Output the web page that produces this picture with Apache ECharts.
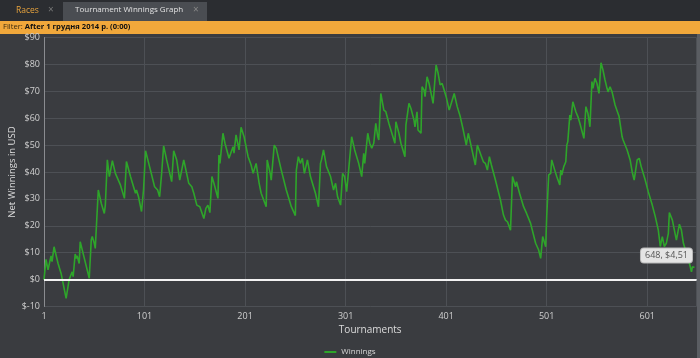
<!DOCTYPE html>
<html><head><meta charset="utf-8">
<script src="https://cdn.jsdelivr.net/npm/echarts@6/dist/echarts.min.js"></script>
<style>html,body{margin:0;padding:0;background:#3a3c40}#c{width:700px;height:358px}</style>
</head><body><div id="c"></div>
<script>
var tournaments = [1,3,5,8,9,11,15,18,23,26,29,30,32,33,34,36,37,46,48,49,51,52,55,58,61,62,64,66,67,69,72,77,78,81,83,87,92,93,95,98,100,102,106,111,114,116,118,120,123,128,130,133,136,140,145,148,150,153,156,160,162,164,166,168,170,174,175,176,179,181,185,189,190,192,195,197,200,204,207,209,212,215,217,222,223,226,227,230,232,237,242,247,251,252,254,256,258,260,263,266,271,274,276,277,279,282,286,289,291,293,296,298,300,302,304,307,310,314,317,319,320,323,325,327,329,331,333,334,336,339,341,344,347,350,351,354,356,360,361,364,366,369,370,372,373,376,377,379,380,382,384,386,388,391,393,395,397,401,404,407,409,412,415,418,421,423,426,430,432,435,438,440,442,444,446,450,455,458,460,462,465,467,470,471,474,478,481,485,490,491,493,495,497,499,500,501,503,505,506,509,511,514,515,516,518,520,521,522,524,525,527,530,532,534,538,540,542,544,546,547,549,551,553,555,557,559,561,562,564,566,569,573,576,577,581,584,586,588,591,593,595,599,602,606,609,612,614,616,618,620,622,623,626,628,630,633,635,637,641,643,645,646,648];
var winnings = [0,7.5,3.6,8.8,6.7,12.2,6,2.3,-7,0,2.9,1.1,9.5,7.9,8.8,6,14.1,0.5,14.7,16,13.5,11.6,33.3,28.3,24.6,27.7,44.5,38.3,40.1,44.2,39.5,35.2,35.8,30.2,43.9,38.3,32.1,33.3,30.8,25.3,33.3,47.9,42,34.5,33.3,30.8,39.5,49.7,44.5,36.4,47.9,44.5,37,44.5,35.8,34.5,32.1,27.7,27.1,22.7,26.5,27.7,24.9,38.3,35.8,30.2,46.3,43.2,54.4,50.7,45.1,49.4,47,53.8,48.2,56.6,53.1,45.7,42.6,39.5,43.2,35.8,32.1,27.1,44.5,39.5,37,50,48.8,40.7,33.3,27.1,23.8,40.7,45.7,43.2,45.1,39.5,44.5,38.3,32.1,27.1,43.2,44.5,48.2,42,38.3,33.3,35.8,30.8,27.7,39.5,38.3,32.7,40.7,53.1,48.2,43.2,38.3,46.9,43.2,54.4,50.7,48.8,50.7,58.1,53.1,51.9,69.2,63,62.4,58.1,54.4,50.7,58.7,54.4,50.7,45.7,57.5,65.5,63.6,59.3,56.8,62.4,55.6,54.4,71.7,70.5,68,75.4,72.9,69.2,65.5,79.8,76.7,72.4,72.9,68,63,66.7,69.2,64.3,60.6,55.6,50,54.4,49.4,42.6,50,46.9,43.8,43.2,40.7,45.7,42.6,37,29.6,24,22.1,21.5,18.4,38.3,34.5,36.4,32.1,27.1,24.6,20.9,13.5,12.9,11,7.9,16,13.5,12.2,23.4,38.9,39.5,44.5,40.7,38.3,35.2,40.7,38.9,42,43.8,50,51.3,61.2,59.3,66.1,62.4,60.6,58.1,52.5,64.3,61.8,56.8,73.6,71.1,74.8,72.9,69.2,80.6,77.9,74.2,71.1,69.8,71.7,69.8,64.9,60.6,53.1,51.9,48.2,44.5,40.1,37,44.5,45.1,42,37,32.7,27.7,23.4,18.4,12.3,16,12.3,13.5,17.2,24.9,22.1,18.4,14.7,20.6,18.4,13.5,8.5,6,2.9,4.8,4.51];
var xTicks = {min: 1, max: 650, step: 100};
var yTicks = {min: -10, max: 90, step: 10};
var tipPoint = [648, 4.51];
var tipText = '648, $4,51';
var seriesName = 'Winnings';

var pts = tournaments.map(function(t, i){ return [t, winnings[i]]; });
var font = '"Open Sans", "DejaVu Sans", sans-serif';
var chart = echarts.init(document.getElementById('c'));
chart.setOption({
  backgroundColor: '#3a3c40',
  animation: false,
  textStyle: {fontFamily: font},
  grid: {left: 44, right: 3.5, top: 37.5, bottom: 51.5, containLabel: false, outerBoundsMode: 'none'},
  graphic: [
    {type: 'rect', left: 0, top: 0, shape: {width: 700, height: 21}, style: {fill: '#2b2d31'}},
    {type: 'rect', left: 63, top: 2, shape: {width: 144, height: 19}, style: {fill: '#4a4d52'}},
    {type: 'text', left: 16, top: 6, style: {text: 'Races', fill: '#e8a33d', font: '8.5px ' + font}},
    {type: 'text', left: 48, top: 5.5, style: {text: '×', fill: '#777', font: '10px ' + font}},
    {type: 'text', left: 75, top: 6, style: {text: 'Tournament Winnings Graph', fill: '#e2e2e2', font: '8px ' + font}},
    {type: 'text', left: 193, top: 5.5, style: {text: '×', fill: '#888', font: '10px ' + font}},
    {type: 'rect', left: 0, top: 21, shape: {width: 700, height: 13}, style: {fill: '#f1a83b'}},
    {type: 'text', left: 3, top: 23, style: {rich: {a: {fill: '#3a2a10', font: '7.6px ' + font}, b: {fill: '#111', font: 'bold 7.6px ' + font}}, text: '{a|Filter: }{b|After 1 грудня 2014 р. (0:00)}'}},
    {type: 'rect', left: 697, top: 34, shape: {width: 3, height: 324}, style: {fill: '#5a5d62'}}
  ],
  legend: {
    data: [seriesName], left: 'center', top: 343, icon: 'rect', itemWidth: 12, itemHeight: 2, itemGap: 5,
    textStyle: {color: '#d8d8d8', fontSize: 8, fontFamily: font}
  },
  xAxis: {
    type: 'value', min: xTicks.min, max: xTicks.max, interval: xTicks.step,
    name: 'Tournaments', nameLocation: 'middle', nameGap: 19, nameMoveOverlap: false,
    nameTextStyle: {color: '#dcdcdc', fontSize: 10},
    axisLine: {show: true, lineStyle: {color: '#9a9ca0', width: 1}},
    axisTick: {show: false},
    axisLabel: {color: '#d0d0d0', fontSize: 9, margin: 5, showMaxLabel: false},
    splitLine: {show: true, lineStyle: {color: '#4d5055', width: 1}}
  },
  yAxis: {
    type: 'value', min: yTicks.min, max: yTicks.max, interval: yTicks.step,
    name: 'Net Winnings in USD', nameLocation: 'middle', nameGap: 27, nameMoveOverlap: false,
    nameTextStyle: {color: '#dcdcdc', fontSize: 9.5},
    axisLine: {show: true, lineStyle: {color: '#8a8c90', width: 1}},
    axisTick: {show: false},
    axisLabel: {color: '#d0d0d0', fontSize: 9, margin: 4, formatter: function(v){ return '$' + v; }},
    splitLine: {show: true, lineStyle: {color: '#4d5055', width: 1}}
  },
  series: [{
    name: seriesName, type: 'line', data: pts, showSymbol: false, symbol: 'none',
    lineStyle: {color: '#2ea52a', width: 1.6}, itemStyle: {color: '#2ea52a'},
    markLine: {
      silent: true, symbol: 'none', label: {show: false},
      lineStyle: {color: '#f2f2f2', width: 2, type: 'solid'},
      data: [{yAxis: 0}]
    },
    markPoint: {
      silent: true, symbol: 'circle', symbolSize: 1,
      itemStyle: {color: 'rgba(0,0,0,0)'},
      label: {
        show: true, formatter: tipText, offset: [-28, -12],
        backgroundColor: '#e4e4e4', borderColor: '#b8b8b8', borderWidth: 1, borderRadius: 3,
        padding: [3, 4, 2, 4], color: '#555', fontSize: 9, fontFamily: font
      },
      data: [{coord: tipPoint}]
    }
  }]
});
</script></body></html>
